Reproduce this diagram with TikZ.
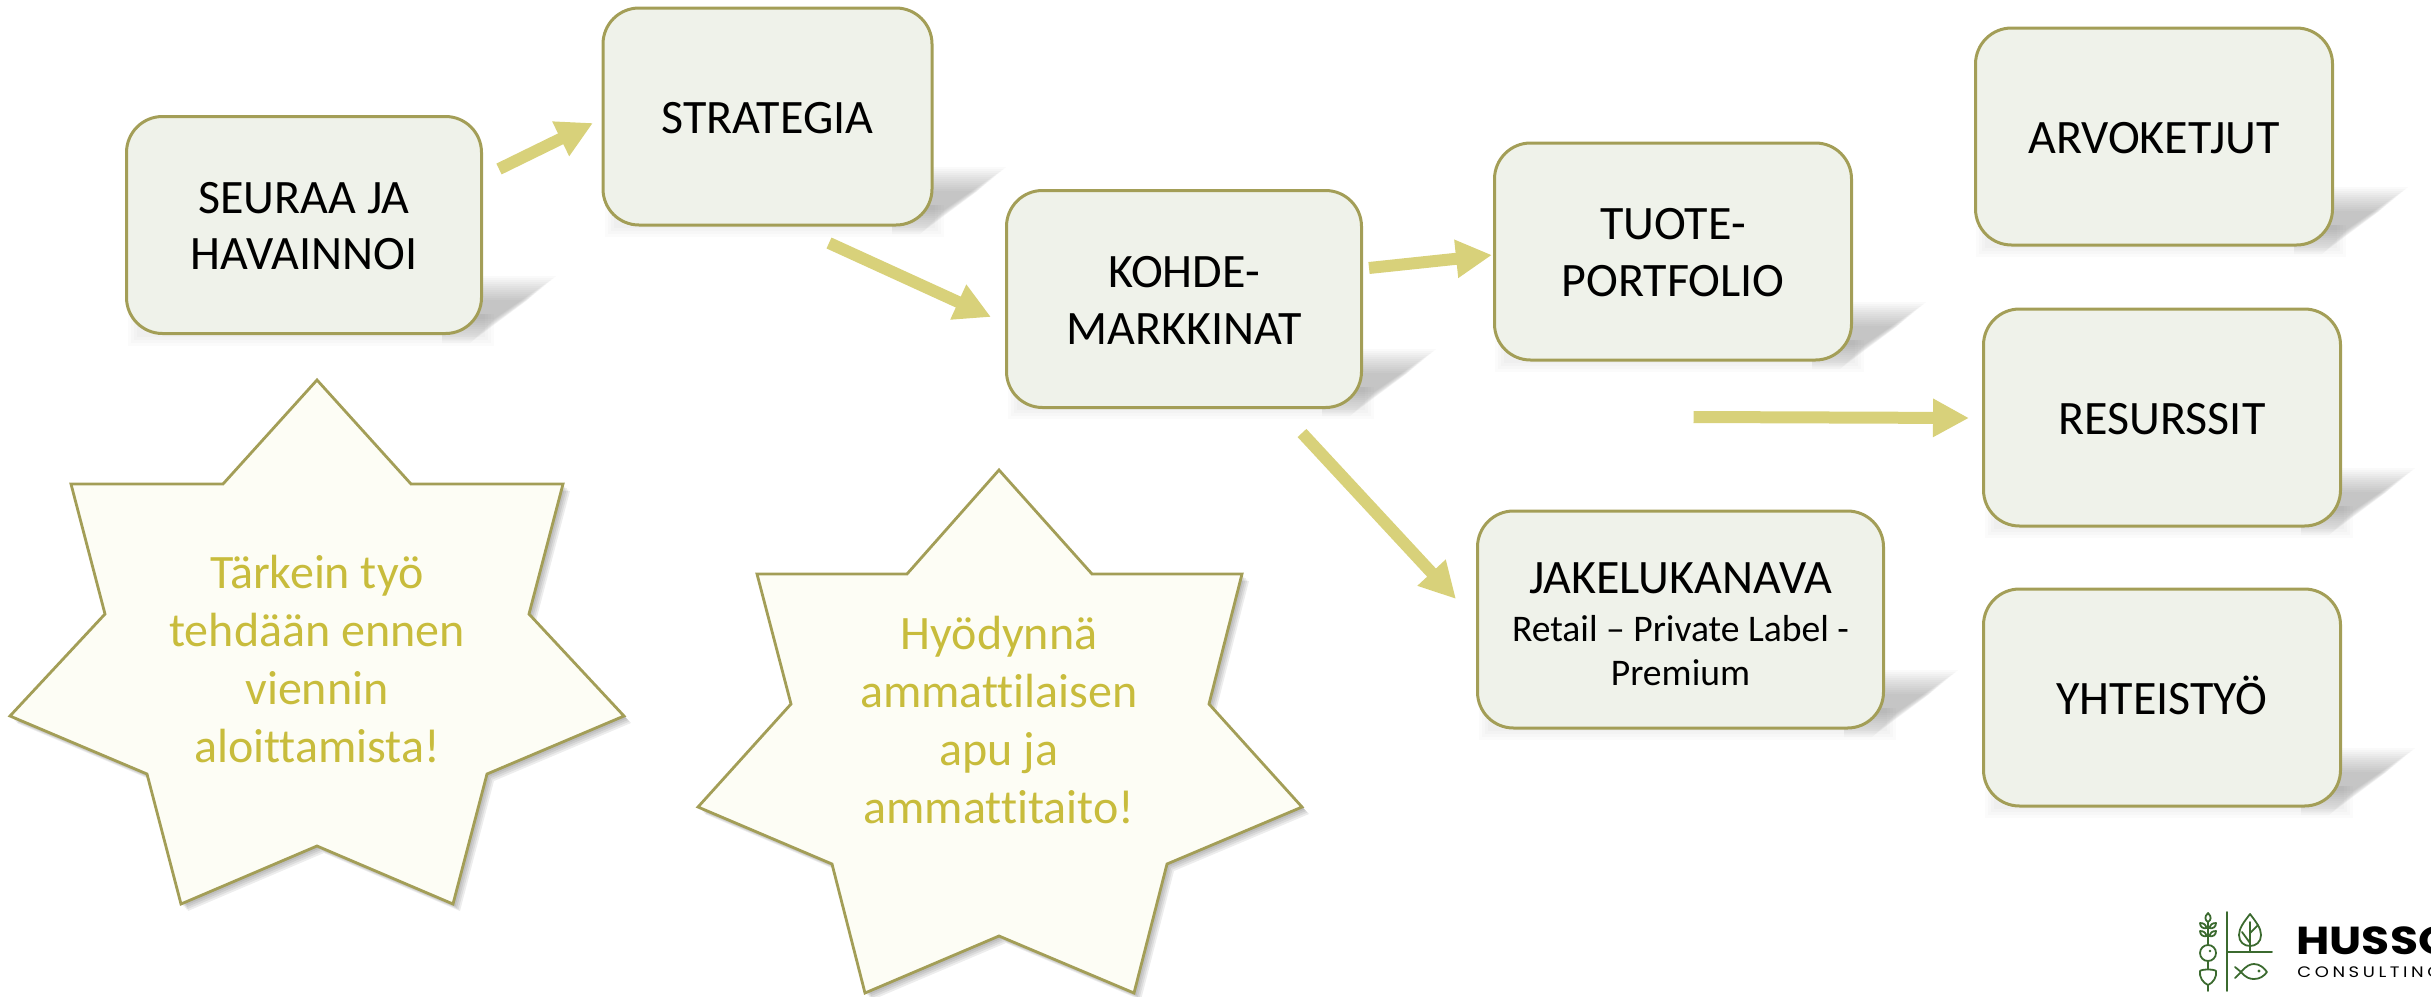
\documentclass[tikz,border=0pt]{standalone}
\usepackage{fontspec}
\setmainfont{Carlito}[Ligatures=CommonOff]
\newfontfamily\logofont{Poppins}
\usetikzlibrary{arrows.meta,calc}
\definecolor{boxline}{RGB}{163,158,87}
\definecolor{boxfill}{RGB}{239,242,234}
\definecolor{starfill}{RGB}{253,253,245}
\definecolor{startext}{RGB}{200,188,60}
\definecolor{arrowcol}{RGB}{216,209,122}
\definecolor{logogreen}{RGB}{59,106,47}
\newcommand{\capstrut}[1]{\rule{0pt}{#1pt}}
\tikzset{
  x=0.5pt,y=-0.5pt,
  procbox/.style={draw=boxline,fill=boxfill,line width=1.5pt,rounded corners=18pt,
    minimum width=178.5pt,minimum height=108.5pt,inner sep=0pt,align=center,text=black,
    font=\fontsize{24}{28.4}\selectfont},
  oneline/.style={text height=16.5pt,text depth=0pt},
  startxt/.style={align=center,text=startext,inner sep=0pt,font=\fontsize{24}{29.1}\selectfont},
  flow/.style={draw=arrowcol,line width=6pt,-{Triangle[length=18pt,width=18pt]}},
  logoline/.style={draw=logogreen,line width=0.9pt,line cap=round,line join=round},
}
\newcommand{\boxshadow}[3]{% left, right, bottom
  \foreach \s in {12,10,8,6,4,2,0,-2,-4,-6,-8,-10,-12}{
    \fill[black,opacity=.019] ({#2-40},{#3-46-\s}) -- ({#2+60+1.2*\s},{#3-46-\s}) -- ({#2+\s},{#3-3-\s}) -- ({#2-40},{#3-3-\s}) -- cycle;
  }
  \foreach \s in {3,6,9,12}{
    \fill[black,opacity=.014] ({#1+14-\s},{#3-20}) rectangle ({#2+\s},{#3+\s});
  }
}
\def\starA{(317,380) -- (411,484) -- (563,484) -- (529,614) -- (624,716) -- (487,774) -- (453,904) -- (317,846) -- (181,904) -- (147,774) -- (10,716) -- (105,614) -- (71,484) -- (223,484) -- cycle}
\def\starB{(999,470) -- (1092,574) -- (1242,574) -- (1209,704) -- (1302,807) -- (1167,864) -- (1134,993) -- (999,936) -- (865,993) -- (832,864) -- (698,807) -- (791,704) -- (757,574) -- (907,574) -- cycle}
\begin{document}
\begin{tikzpicture}
\useasboundingbox (0,0) rectangle (2431,996);
\clip (0,0) rectangle (2431,996);
% shadows
\boxshadow{126}{482}{334}
\boxshadow{603}{932}{225}
\boxshadow{1006}{1362}{407}
\boxshadow{1493}{1852}{360}
\boxshadow{1974}{2334}{245}
\boxshadow{1983}{2341}{526}
\boxshadow{1983}{2341}{806}
\boxshadow{1477}{1884}{728}
\foreach \s in {1,2.5,4,5.5,7}{
  \fill[black,opacity=.07,shift={(\s,\s)}] \starA;
  \fill[black,opacity=.07,shift={(\s,\s)}] \starB;
}
% stars
\draw[draw=boxline,fill=starfill,line width=1.4pt,line join=miter] \starA;
\draw[draw=boxline,fill=starfill,line width=1.4pt,line join=miter] \starB;
\node[startxt] (tipA) at (317,659) {Tärkein työ\\tehdään ennen\\viennin\\aloittamista!};
\node[startxt] (tipB) at (999,720) {Hyödynnä\\ammattilaisen\\apu ja\\ammattitaito!};
% boxes
\node[procbox,minimum width=177.5pt] (seuraa) at (304,225) {\capstrut{16.6}SEURAA JA\\HAVAINNOI};
\node[procbox,oneline,minimum width=164.5pt] (strategia) at (767.5,116.5) {STRATEGIA};
\node[procbox,minimum width=177.5pt] (kohde) at (1184,299) {\capstrut{16.6}KOHDE-\\MARKKINAT};
\node[procbox] (tuote) at (1673,251.5) {\capstrut{16.6}TUOTE-\\PORTFOLIO};
\node[procbox,oneline] (arvo) at (2154,136.5) {ARVOKETJUT};
\node[procbox,oneline] (resurssit) at (2162,417.5) {RESURSSIT};
\node[procbox,oneline] (yhteistyo) at (2162,697.5) {YHTEISTYÖ};
\node[procbox,minimum width=203pt] (jakelu) at (1680.5,619.5) {\capstrut{20.5}JAKELUKANAVA\\[-4.4pt]{\fontsize{18.8}{22}\selectfont Retail – Private Label -}\\[-6.4pt]{\fontsize{18.8}{22}\selectfont Premium}};
% connectors
\draw[flow] ([shift={(195,-56)}]seuraa.center) -- ([shift={(-174.5,6.5)}]strategia.center);
\draw[flow] ([shift={(61.5,126.5)}]strategia.center) -- ([shift={(-193,18)}]kohde.center);
\draw[flow] ([shift={(185,-31)}]kohde.center) -- ([shift={(-181,3.5)}]tuote.center);
\draw[flow] ([shift={(118,134)}]kohde.center) -- ([shift={(-224.5,-20.5)}]jakelu.center);
\draw[flow] ([shift={(20.5,165.5)}]tuote.center) -- ([shift={(-193,0.5)}]resurssit.center);
% logo
\draw[logoline] (2227,912) -- (2227,991);
\draw[logoline] (2227,952) -- (2272,952);
\draw[logoline] (2250,914) .. controls (2256,922) and (2261,928) .. (2261,935) .. controls (2261,942) and (2256,946) .. (2250,946) .. controls (2244,946) and (2239,942) .. (2239,935) .. controls (2239,928) and (2244,922) .. (2250,914) -- cycle;
\draw[logoline] (2250,922) -- (2250,952);
\draw[logoline] (2242,932) -- (2250,943);
\draw[logoline] (2258,925) -- (2250,933);
\draw[logoline] (2235,978) -- (2241,972) .. controls (2246,966) and (2250,964) .. (2254,964) .. controls (2260,964) and (2264,968) .. (2267,972) .. controls (2264,976) and (2260,979) .. (2254,979) .. controls (2250,979) and (2246,978) .. (2241,972) -- (2235,967);
\fill[logogreen] (2259,971) circle (1.6);
\draw[logoline] (2208,913) .. controls (2204,917) and (2205,920) .. (2208,922) .. controls (2211,920) and (2212,917) .. (2208,913) -- cycle;
\draw[logoline] (2200,923) .. controls (2200,927) and (2203,929) .. (2207,928) .. controls (2206,925) and (2204,923) .. (2200,923) -- cycle;
\draw[logoline] (2216,923) .. controls (2216,927) and (2213,929) .. (2209,928) .. controls (2210,925) and (2212,923) .. (2216,923) -- cycle;
\draw[logoline] (2200,931) .. controls (2200,935) and (2203,937) .. (2207,936) .. controls (2206,933) and (2204,931) .. (2200,931) -- cycle;
\draw[logoline] (2216,931) .. controls (2216,935) and (2213,937) .. (2209,936) .. controls (2210,933) and (2212,931) .. (2216,931) -- cycle;
\draw[logoline] (2208,922) -- (2208,945);
\draw[logoline] (2208,953) circle (8);
\fill[logogreen] (2210,951) circle (1.4);
\draw[logoline] (2208,961) -- (2208,969);
\draw[logoline] (2200,971) .. controls (2202,969) and (2214,969) .. (2216,971) .. controls (2217,977) and (2213,983) .. (2208,985) .. controls (2203,983) and (2199,977) .. (2200,971) -- cycle;
\draw[logoline] (2208,985) -- (2208,991);
\node[anchor=base west,inner sep=0pt,font=\logofont\bfseries\fontsize{19.5}{20}\selectfont] (logoname) at (2296,954) {\scalebox{1.17}[1]{HUSSO}};
\node[anchor=base west,inner sep=0pt,font=\logofont\fontsize{7.6}{8}\selectfont\addfontfeature{LetterSpace=20}] (logosub) at (2297,977) {\scalebox{1.18}[1]{CONSULTING}};
\end{tikzpicture}
\end{document}
